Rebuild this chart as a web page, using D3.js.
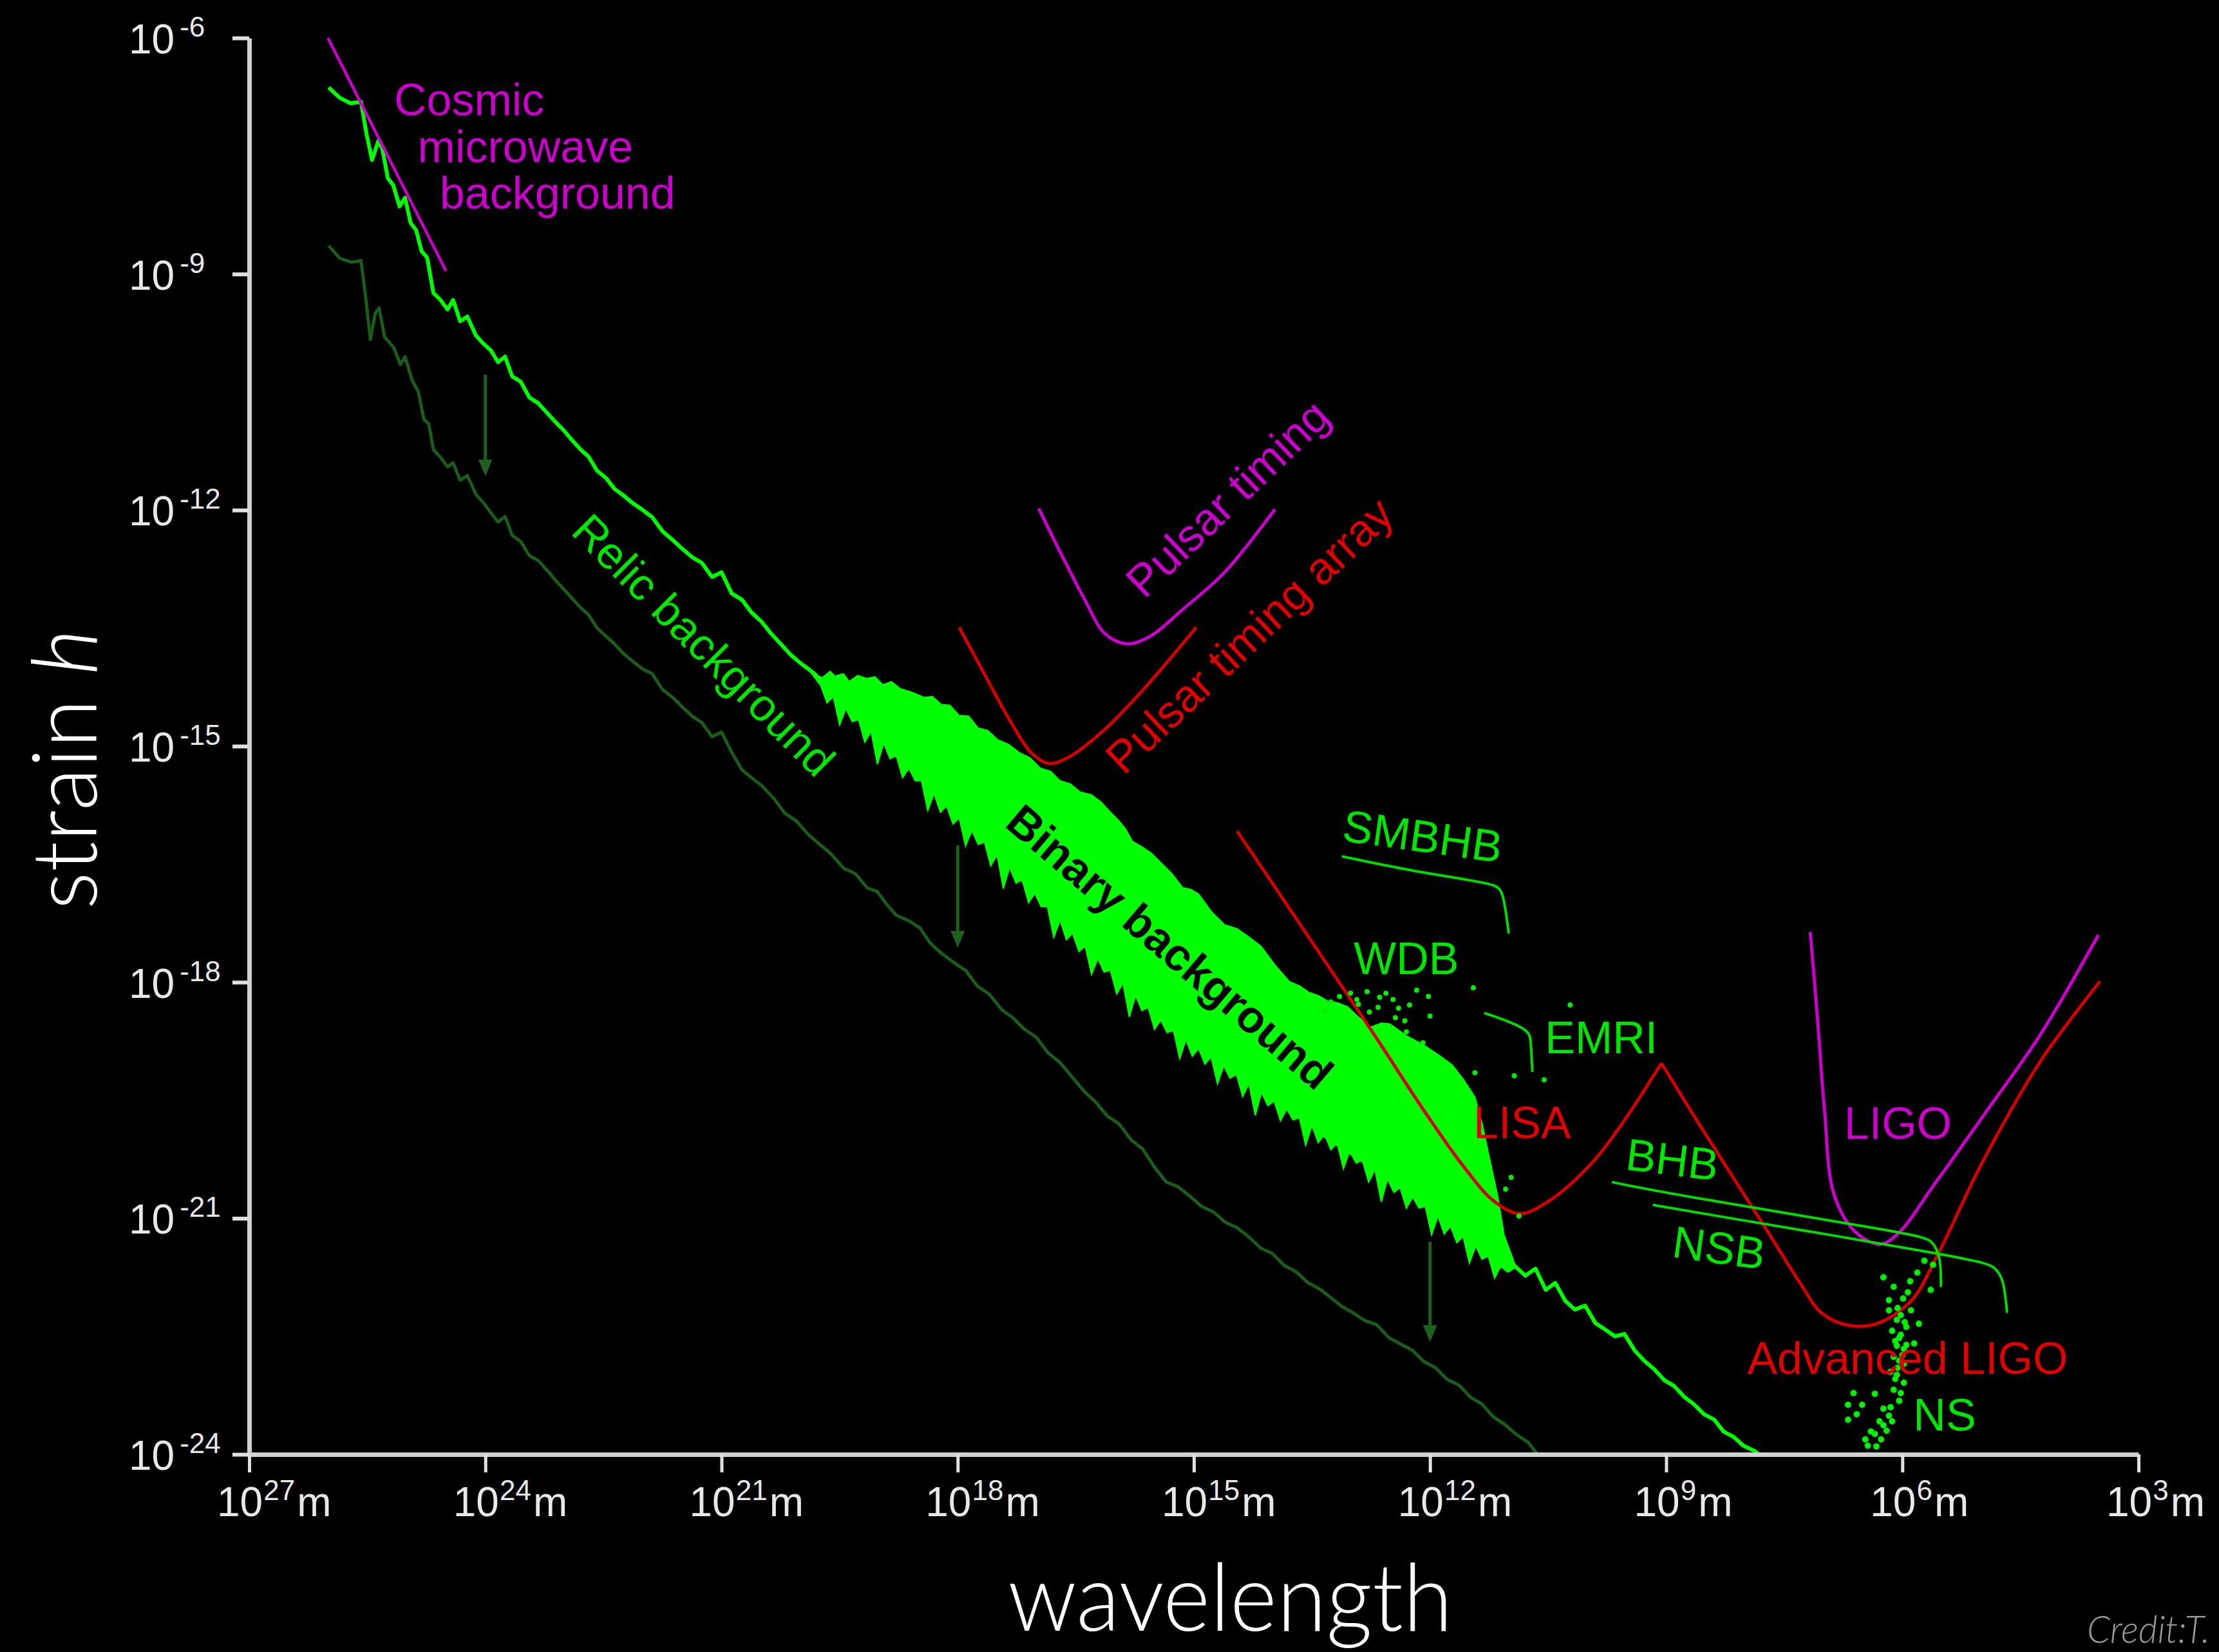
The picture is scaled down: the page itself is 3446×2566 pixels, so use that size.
<!DOCTYPE html>
<html><head><meta charset="utf-8">
<script src="https://cdn.jsdelivr.net/npm/d3@7"></script>
<style>html,body{margin:0;padding:0;background:#000;}</style>
</head><body>
<svg id="chart" width="3446" height="2566"></svg>
<script>
// ---- data: all pairs are [log10 wavelength (m), log10 strain h] ----
const xTickExps = [27, 24, 21, 18, 15, 12, 9, 6, 3];
const yTickExps = [-6, -9, -12, -15, -18, -21, -24];

const mainBackground = [
[25.99,-6.63],[25.85,-6.76],[25.71,-6.83],[25.58,-6.81],[25.51,-7.22],[25.44,-7.55],[25.36,-7.31],[25.31,-7.40],[25.24,-7.78],[25.17,-7.87],[25.09,-8.14],[25.02,-8.03],[24.95,-8.35],[24.88,-8.44],[24.81,-8.71],[24.74,-8.79],[24.66,-9.24],[24.57,-9.33],[24.48,-9.45],[24.41,-9.33],[24.32,-9.60],[24.23,-9.54],[24.12,-9.78],[24.03,-9.88],[23.93,-9.97],[23.84,-10.12],[23.75,-10.05],[23.66,-10.30],[23.55,-10.37],[23.44,-10.57],[23.33,-10.64],[23.22,-10.76],[23.12,-10.87],[23.01,-10.98],[22.90,-11.11],[22.79,-11.23],[22.69,-11.32],[22.58,-11.50],[22.47,-11.59],[22.36,-11.73],[22.25,-11.81],[22.13,-11.91],[22.00,-12.00],[21.88,-12.09],[21.75,-12.27],[21.62,-12.38],[21.50,-12.49],[21.37,-12.60],[21.25,-12.67],[21.12,-12.85],[21.00,-12.79],[20.87,-13.06],[20.74,-13.14],[20.62,-13.30],[20.49,-13.42],[20.37,-13.57],[20.24,-13.71],[20.12,-13.84],[19.99,-13.95],[19.83,-14.07],
[19.02,-14.85],[18.48,-15.31],[17.44,-16.35],[16.39,-17.39],[15.35,-18.54],[14.31,-19.23],[13.27,-20.00],[12.22,-20.68],[11.34,-21.36],
[10.93,-21.60],[10.79,-21.73],[10.66,-21.64],[10.53,-21.91],[10.41,-21.82],[10.28,-22.05],[10.16,-22.16],[10.03,-22.11],[9.90,-22.33],[9.78,-22.41],[9.65,-22.50],[9.53,-22.47],[9.40,-22.68],[9.28,-22.81],[9.15,-22.92],[9.02,-23.06],[8.90,-23.13],[8.77,-23.27],[8.65,-23.36],[8.52,-23.49],[8.39,-23.56],[8.27,-23.71],[8.14,-23.78],[8.02,-23.89],[7.87,-23.96],[7.77,-24.05]
];

const relicBackground = [
[25.99,-8.64],[25.85,-8.80],[25.70,-8.85],[25.58,-8.83],[25.52,-9.30],[25.46,-9.83],[25.40,-9.50],[25.35,-9.43],[25.28,-9.80],[25.16,-9.94],[25.08,-10.15],[25.02,-10.05],[24.93,-10.35],[24.85,-10.50],[24.78,-10.85],[24.72,-10.90],[24.66,-11.23],[24.57,-11.33],[24.48,-11.45],[24.41,-11.40],[24.32,-11.62],[24.23,-11.56],[24.12,-11.80],[24.03,-11.90],[23.94,-12.02],[23.84,-12.15],[23.75,-12.08],[23.66,-12.32],[23.55,-12.40],[23.44,-12.58],[23.33,-12.64],[23.22,-12.76],[23.12,-12.88],[23.01,-13.00],[22.90,-13.12],[22.79,-13.24],[22.69,-13.33],[22.58,-13.50],[22.47,-13.60],[22.36,-13.70],[22.25,-13.82],[22.13,-13.92],[22.00,-14.02],[21.88,-14.08],[21.75,-14.28],[21.62,-14.38],[21.50,-14.50],[21.37,-14.62],[21.25,-14.70],[21.12,-14.88],[21.00,-14.82],[20.87,-15.08],[20.74,-15.30],[20.62,-15.40],[20.49,-15.50],[20.33,-15.67],[20.20,-15.85],[20.05,-15.95],[19.90,-16.12],[19.75,-16.25],[19.61,-16.37],[19.45,-16.55],[19.30,-16.62],[19.15,-16.80],[19.02,-16.85],[18.91,-17.00],[18.78,-17.15],[18.62,-17.22],[18.48,-17.31],[18.35,-17.50],[18.21,-17.63],[18.05,-17.75],[17.90,-17.85],[17.75,-18.05],[17.60,-18.15],[17.44,-18.35],[17.30,-18.45],[17.15,-18.60],[17.00,-18.70],[16.85,-18.90],[16.70,-19.02],[16.55,-19.20],[16.39,-19.39],[16.25,-19.52],[16.10,-19.70],[15.95,-19.80],[15.80,-20.00],[15.65,-20.12],[15.50,-20.35],[15.35,-20.54],[15.20,-20.60],[15.05,-20.72],[14.90,-20.85],[14.75,-20.92],[14.60,-21.05],[14.45,-21.12],[14.31,-21.23],[14.15,-21.38],[14.00,-21.45],[13.85,-21.60],[13.70,-21.68],[13.55,-21.82],[13.40,-21.90],[13.27,-22.00],[13.12,-22.12],[12.98,-22.20],[12.83,-22.30],[12.68,-22.35],[12.52,-22.52],[12.37,-22.60],[12.22,-22.68],[12.08,-22.82],[11.93,-22.90],[11.78,-23.05],[11.63,-23.12],[11.48,-23.28],[11.34,-23.36],[11.20,-23.52],[11.05,-23.62],[10.90,-23.75],[10.75,-23.85],[10.60,-24.05]
];

const binaryTop = [
[19.86,-14.07],[19.72,-14.13],[19.62,-14.05],[19.56,-14.11],[19.45,-14.08],[19.38,-14.18],[19.27,-14.10],[19.16,-14.14],[19.05,-14.12],[18.95,-14.22],[18.84,-14.18],[18.73,-14.27],[18.57,-14.32],[18.43,-14.38],[18.32,-14.37],[18.21,-14.47],[18.10,-14.48],[17.98,-14.61],[17.86,-14.62],[17.74,-14.77],[17.62,-14.80],[17.49,-14.92],[17.35,-14.98],[17.22,-15.08],[17.08,-15.15],[16.95,-15.28],[16.82,-15.32],[16.70,-15.44],[16.57,-15.48],[16.45,-15.58],[16.30,-15.62],[16.18,-15.71],[16.06,-15.84],[15.96,-15.94],[15.87,-16.05],[15.78,-16.21],[15.66,-16.28],[15.54,-16.36],[15.42,-16.48],[15.28,-16.62],[15.14,-16.80],[15.04,-16.82],[14.94,-16.88],[14.78,-17.10],[14.61,-17.27],[14.45,-17.32],[14.31,-17.42],[14.15,-17.54],[13.97,-17.78],[13.79,-17.99],[13.65,-18.05],[13.54,-18.13],[13.42,-18.17],[13.30,-18.24],[13.18,-18.26],[13.05,-18.31],[12.90,-18.45],[12.75,-18.57],[12.62,-18.52],[12.51,-18.53],[12.30,-18.68],[12.08,-18.80],[11.90,-18.92],[11.72,-19.05],[11.58,-19.23],[11.43,-19.46],[11.34,-19.79],[11.24,-20.26],[11.14,-20.72],[11.06,-21.21],[10.91,-21.62]
];
const binaryBottom = [
[19.74,-14.23],[19.66,-14.45],[19.58,-14.37],[19.50,-14.73],[19.42,-14.52],[19.34,-14.69],[19.26,-14.66],[19.18,-14.95],[19.10,-14.81],[19.02,-15.23],[18.94,-14.96],[18.86,-15.16],[18.78,-15.12],[18.70,-15.40],[18.62,-15.28],[18.54,-15.44],[18.46,-15.44],[18.38,-15.82],[18.30,-15.60],[18.22,-15.84],[18.14,-15.76],[18.06,-15.99],[17.98,-15.91],[17.90,-16.27],[17.82,-16.07],[17.74,-16.25],[17.66,-16.22],[17.58,-16.52],[17.50,-16.38],[17.42,-16.81],[17.34,-16.54],[17.26,-16.74],[17.18,-16.70],[17.10,-16.99],[17.02,-16.87],[16.94,-17.04],[16.86,-17.04],[16.78,-17.43],[16.70,-17.21],[16.62,-17.46],[16.54,-17.38],[16.46,-17.61],[16.38,-17.54],[16.30,-17.90],[16.22,-17.70],[16.14,-17.87],[16.06,-17.85],[15.98,-18.15],[15.90,-18.01],[15.82,-18.44],[15.74,-18.17],[15.66,-18.36],[15.58,-18.32],[15.50,-18.60],[15.42,-18.48],[15.34,-18.64],[15.26,-18.61],[15.18,-18.97],[15.10,-18.73],[15.02,-18.94],[14.94,-18.84],[14.86,-19.04],[14.78,-18.95],[14.70,-19.29],[14.62,-19.06],[14.54,-19.22],[14.46,-19.17],[14.38,-19.45],[14.30,-19.29],[14.22,-19.69],[14.14,-19.40],[14.06,-19.57],[13.98,-19.51],[13.90,-19.76],[13.82,-19.61],[13.74,-19.75],[13.66,-19.72],[13.58,-20.07],[13.50,-19.82],[13.42,-20.04],[13.34,-19.93],[13.26,-20.13],[13.18,-20.04],[13.10,-20.37],[13.02,-20.14],[12.94,-20.30],[12.86,-20.26],[12.78,-20.54],[12.70,-20.38],[12.62,-20.79],[12.54,-20.50],[12.46,-20.67],[12.38,-20.61],[12.30,-20.87],[12.22,-20.73],[12.14,-20.87],[12.06,-20.85],[11.98,-21.21],[11.90,-20.97],[11.82,-21.20],[11.74,-21.10],[11.66,-21.31],[11.58,-21.23],[11.50,-21.57],[11.42,-21.35],[11.34,-21.52],[11.26,-21.48],[11.18,-21.76],[11.10,-21.61],[11.02,-21.68],[11.00,-21.68]
];

const cmbLimit = [[26.00,-6.00],[24.50,-8.96]];
const pulsarTiming = [[16.97,-11.98],[16.70,-12.53],[16.38,-13.15],[16.13,-13.57],[15.85,-13.70],[15.55,-13.60],[15.14,-13.26],[14.61,-12.79],[13.97,-11.99]];
const pulsarTimingArray = [[17.98,-13.49],[17.63,-14.14],[17.31,-14.72],[17.06,-15.09],[16.84,-15.22],[16.59,-15.14],[16.18,-14.83],[15.66,-14.30],[14.97,-13.49]];
const lisaCurve = [[14.45,-16.08],[13.68,-17.22],[12.74,-18.62],[12.03,-19.70],[11.56,-20.36],[11.19,-20.78],[10.86,-20.94],[10.49,-20.78],[9.92,-20.27],[9.46,-19.65],[9.17,-19.20],[9.06,-19.03]];
const advancedLigoCurve = [[9.06,-19.03],[8.52,-19.90],[7.81,-21.01],[7.30,-21.82],[7.03,-22.20],[6.69,-22.36],[6.33,-22.34],[5.89,-22.05],[5.54,-21.44],[5.00,-20.32],[4.25,-19.01],[3.49,-17.99]];
const ligoCurve = [[7.17,-17.36],[7.08,-18.44],[6.99,-19.61],[6.87,-20.69],[6.60,-21.17],[6.29,-21.33],[6.07,-21.21],[5.58,-20.55],[4.91,-19.61],[4.25,-18.67],[3.51,-17.40]];

const smbhbBracket = [[13.12,-16.40],[12.27,-16.58],[11.24,-16.74],[11.11,-16.80],[11.06,-16.93],[11.00,-17.38]];
const emriBracket = [[11.31,-18.39],[10.91,-18.53],[10.75,-18.63],[10.72,-18.71],[10.70,-19.14]];
const bhbBracket = [[9.69,-20.54],[8.90,-20.70],[5.80,-21.21],[5.61,-21.28],[5.51,-21.51],[5.51,-21.87]];
const nsbBracket = [[9.17,-20.83],[8.90,-20.88],[5.00,-21.53],[4.82,-21.62],[4.71,-21.78],[4.67,-22.20]];

const wdbSources = [[13.26,-18.25],[13.15,-18.18],[13.01,-18.14],[12.80,-18.12],[12.56,-18.14],[12.47,-18.22],[12.17,-18.10],[12.02,-18.18],[12.26,-18.29],[12.66,-18.32],[12.44,-18.45],[12.32,-18.49],[12.00,-18.43],[12.30,-18.63],[12.09,-18.77],[11.45,-18.07],[10.22,-18.29],[11.43,-19.15],[10.93,-19.19],[10.55,-19.24],[10.97,-20.48],[11.04,-20.63],[10.87,-20.97],[12.93,-18.22],[12.77,-18.38],[13.33,-18.36],[12.91,-18.28],[12.64,-18.19],[12.40,-18.33]];
const nsSources = [[5.72,-21.54],[5.61,-21.59],[6.24,-21.75],[6.11,-21.87],[5.93,-21.94],[5.64,-21.91],[6.17,-22.04],[6.17,-22.17],[5.89,-22.17],[6.07,-22.29],[5.79,-22.34],[6.13,-22.43],[6.02,-22.48],[6.07,-22.62],[5.98,-22.66],[5.85,-22.59],[6.11,-22.76],[5.98,-22.85],[6.07,-22.99],[5.98,-23.09],[6.11,-23.18],[6.04,-23.32],[6.35,-23.23],[6.24,-23.42],[6.51,-23.37],[6.69,-23.37],[6.69,-23.56],[6.17,-23.51],[6.20,-23.70],[6.35,-23.74],[6.44,-23.89],[6.33,-23.90],[6.02,-22.23],[5.95,-22.38],[6.04,-22.52],[6.00,-22.74],[6.06,-22.90],[6.09,-23.04],[6.13,-23.58],[6.27,-23.81],[6.24,-23.63],
[5.81,-21.69],[5.90,-21.80],[5.99,-22.02],[6.06,-22.14],[5.97,-22.32],[6.09,-22.56],[5.95,-22.61],[6.04,-22.81],[6.15,-22.95],[6.02,-23.22],[6.15,-23.40],[6.29,-23.58],[6.40,-23.71],[6.47,-23.81],[6.62,-23.22],[6.58,-23.49]];

// arrows: [log wavelength, log h start, log h end]
const shiftArrows = [[24.0,-10.28,-11.57],[18.0,-16.26,-17.56],[12.0,-21.30,-22.57]];

const labels = [
  {text:"Cosmic", at:[25.16,-6.98], rot:0, color:"#cc00cc"},
  {text:"microwave", at:[24.86,-7.58], rot:0, color:"#cc00cc"},
  {text:"background", at:[24.58,-8.17], rot:0, color:"#cc00cc"},
  {text:"Pulsar timing", at:[15.63,-13.14], rot:-43.8, color:"#cc00cc"},
  {text:"Pulsar timing array", at:[15.89,-15.38], rot:-43.5, color:"#e00000"},
  {text:"Relic background", at:[22.93,-12.29], rot:45, color:"#00e600"},
  {text:"Binary background", at:[17.42,-16.01], rot:40.4, color:"#000000", bold:true},
  {text:"SMBHB", at:[13.13,-16.20], rot:8, color:"#00e600"},
  {text:"WDB", at:[12.97,-17.90], rot:0, color:"#00e600"},
  {text:"EMRI", at:[10.54,-18.90], rot:0, color:"#00e600"},
  {text:"LISA", at:[11.45,-19.98], rot:0, color:"#e00000"},
  {text:"BHB", at:[9.53,-20.38], rot:7, color:"#00e600"},
  {text:"NSB", at:[8.94,-21.49], rot:8, color:"#00e600"},
  {text:"LIGO", at:[6.74,-19.99], rot:0, color:"#cc00cc"},
  {text:"Advanced LIGO", at:[7.97,-22.98], rot:0, color:"#e00000"},
  {text:"NS", at:[5.86,-23.70], rot:0, color:"#00e600"}
];

// ---- drawing ----
const W = 3446, H = 2566;
const svg = d3.select("#chart");
svg.append("rect").attr("width", W).attr("height", H).attr("fill", "#000");

const x = d3.scaleLog().domain([1e27, 1e3]).range([387, 3321]);
const y = d3.scaleLog().domain([1e-6, 1e-24]).range([59, 2259]);
const px = d => x(Math.pow(10, d[0]));
const py = d => y(Math.pow(10, d[1]));

const FONT = "'Liberation Sans', Arial, Helvetica, sans-serif";

svg.append("defs").append("clipPath").attr("id", "plotClip")
  .append("rect").attr("x", 387).attr("y", 40).attr("width", 2934).attr("height", 2219);

const plot = svg.append("g").attr("clip-path", "url(#plotClip)");

const jagged = d3.line().x(px).y(py).curve(d3.curveLinear);
const smooth = d3.line().x(px).y(py).curve(d3.curveCatmullRom.alpha(0.5));
const rounded = d3.line().x(px).y(py).curve(d3.curveBasis);

// relic background
plot.append("path").attr("d", jagged(relicBackground))
  .attr("fill", "none").attr("stroke", "#1a5c1a").attr("stroke-width", 5).attr("stroke-linejoin", "round");

// arrows
shiftArrows.forEach(a => {
  const ax = x(Math.pow(10, a[0]));
  const y0 = y(Math.pow(10, a[1])), y1 = y(Math.pow(10, a[2]));
  plot.append("line").attr("x1", ax).attr("x2", ax).attr("y1", y0).attr("y2", y1 - 20)
    .attr("stroke", "#1f601f").attr("stroke-width", 5);
  plot.append("path").attr("d", `M${ax - 11},${y1 - 26}L${ax + 11},${y1 - 26}L${ax},${y1}Z`).attr("fill", "#1f601f");
});

// main background
plot.append("path").attr("d", jagged(mainBackground))
  .attr("fill", "none").attr("stroke", "#00ff00").attr("stroke-width", 6).attr("stroke-linejoin", "round");

// binary background band
const band = binaryTop.concat(binaryBottom.slice().reverse());
plot.append("path").attr("d", d3.line().x(px).y(py).curve(d3.curveLinearClosed)(band))
  .attr("fill", "#00ff00").attr("stroke", "#00ff00").attr("stroke-width", 2);

// CMB limit
plot.append("path").attr("d", jagged(cmbLimit)).attr("fill", "none").attr("stroke", "#cc00cc").attr("stroke-width", 4.5);

// detector curves
[[pulsarTiming, "#cc00cc"], [ligoCurve, "#cc00cc"], [pulsarTimingArray, "#d40000"], [lisaCurve, "#d40000"], [advancedLigoCurve, "#d40000"]]
  .forEach(([d, c]) => plot.append("path").attr("d", smooth(d)).attr("fill", "none")
    .attr("stroke", c).attr("stroke-width", 5).attr("stroke-linejoin", "round"));

// brackets
[smbhbBracket, emriBracket, bhbBracket, nsbBracket].forEach(d =>
  plot.append("path").attr("d", rounded(d)).attr("fill", "none").attr("stroke", "#00dd00").attr("stroke-width", 4));

// source dots
plot.selectAll("circle.wdb").data(wdbSources).join("circle").attr("class", "wdb")
  .attr("cx", px).attr("cy", py).attr("r", 4).attr("fill", "#00ee00");
plot.selectAll("circle.ns").data(nsSources).join("circle").attr("class", "ns")
  .attr("cx", px).attr("cy", py).attr("r", 5).attr("fill", "#00ee00");

// labels
labels.forEach(l => {
  svg.append("text")
    .attr("transform", `translate(${px(l.at)},${py(l.at)}) rotate(${l.rot})`)
    .attr("font-family", FONT).attr("font-size", 70)
    .attr("font-weight", l.bold ? "bold" : "normal")
    .attr("fill", l.color).text(l.text);
});

// axes
const xAxis = d3.axisBottom(x).tickValues(xTickExps.map(e => Math.pow(10, e)))
  .tickSize(28).tickSizeOuter(0).tickFormat("");
const gx = svg.append("g").attr("transform", "translate(0,2259)").call(xAxis);
gx.select(".domain").attr("stroke", "#cfcfcf").attr("stroke-width", 7);
gx.selectAll(".tick line").attr("stroke", "#e0e0e0").attr("stroke-width", 5);

const yAxis = d3.axisLeft(y).tickValues(yTickExps.map(e => Math.pow(10, e)))
  .tickSize(26).tickSizeOuter(0).tickFormat("");
const gy = svg.append("g").attr("transform", "translate(387,0)").call(yAxis);
gy.select(".domain").attr("stroke", "#cfcfcf").attr("stroke-width", 7);
gy.selectAll(".tick line").attr("stroke", "#e0e0e0").attr("stroke-width", 6);

// tick labels
xTickExps.forEach(e => {
  const t = svg.append("text").attr("x", x(Math.pow(10, e)) - 50).attr("y", 2355)
    .attr("font-family", FONT).attr("font-size", 64).attr("fill", "#e8e8e8");
  t.append("tspan").text("10");
  t.append("tspan").attr("font-size", 44).attr("dy", -25).attr("dx", 1).text(e);
  t.append("tspan").attr("dy", 25).attr("dx", 3).text("m");
});
yTickExps.forEach(e => {
  const t = svg.append("text").attr("x", 200).attr("y", y(Math.pow(10, e)) + 24)
    .attr("font-family", FONT).attr("font-size", 64).attr("fill", "#e8e8e8");
  t.append("tspan").text("10");
  t.append("tspan").attr("font-size", 44).attr("dy", -26).attr("dx", 8).text(e);
});

// axis titles
svg.append("text").attr("x", 1565).attr("y", 2533)
  .attr("font-family", "Lato, 'Open Sans', sans-serif").attr("font-weight", 300)
  .attr("font-size", 146).attr("fill", "#ffffff")
  .attr("textLength", 691).attr("lengthAdjust", "spacingAndGlyphs").text("wavelength");

const ty = svg.append("text").attr("transform", "translate(150,1413) rotate(-90)")
  .attr("font-family", "Lato, 'Open Sans', sans-serif").attr("font-weight", 300)
  .attr("font-size", 140).attr("fill", "#ffffff")
  .attr("textLength", 436).attr("lengthAdjust", "spacingAndGlyphs");
ty.append("tspan").text("strain ");
ty.append("tspan").attr("font-style", "italic").text("h");

svg.append("text").attr("x", 3241).attr("y", 2552)
  .attr("font-family", "Lato, 'Open Sans', sans-serif").attr("font-weight", 300)
  .attr("font-style", "italic").attr("font-size", 60).attr("fill", "#9a9a9a")
  .attr("textLength", 191).attr("lengthAdjust", "spacingAndGlyphs").text("Credit:T.");
</script>
</body></html>
